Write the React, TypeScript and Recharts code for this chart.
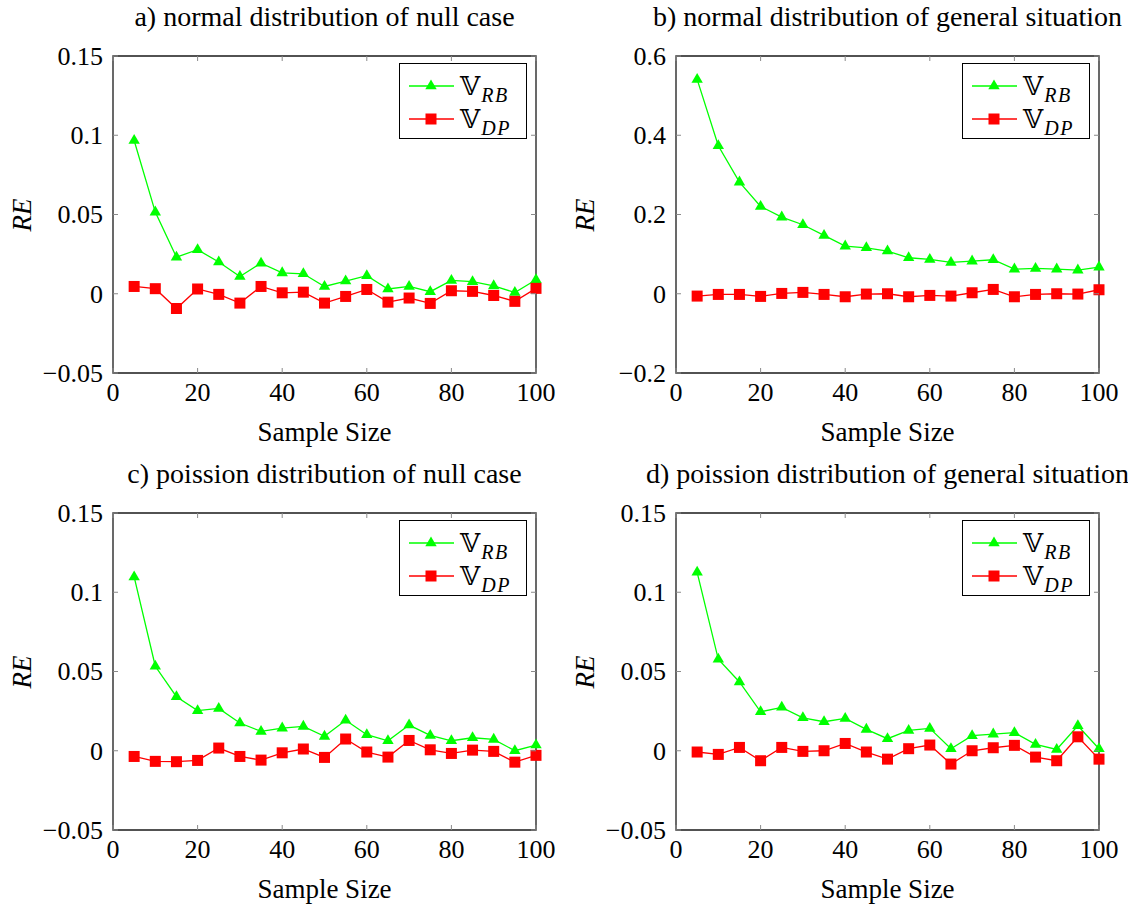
import React from 'react';
import { LineChart, Line, XAxis, YAxis, ReferenceArea } from 'recharts';

const sampleSizes = [5, 10, 15, 20, 25, 30, 35, 40, 45, 50, 55, 60, 65, 70, 75, 80, 85, 90, 95, 100];
const xTicks = [0, 20, 40, 60, 80, 100];

// a) normal, null case
const normalNullRB = [0.0967, 0.0515, 0.0231, 0.0278, 0.02, 0.0109, 0.0193, 0.0132, 0.0126, 0.0046, 0.008, 0.0114, 0.003, 0.0046, 0.0013, 0.0084, 0.0076, 0.005, 0.0008, 0.0088];
const normalNullDP = [0.0046, 0.0032, -0.0093, 0.003, -0.0004, -0.0059, 0.0046, 0.0006, 0.001, -0.0059, -0.0017, 0.0027, -0.0053, -0.0027, -0.0061, 0.0019, 0.0015, -0.0011, -0.0048, 0.0034];

// b) normal, general situation
const normalGenRB = [0.541, 0.3735, 0.2818, 0.2204, 0.1935, 0.1741, 0.1472, 0.1203, 0.116, 0.1077, 0.0908, 0.0866, 0.079, 0.0824, 0.0858, 0.0622, 0.0639, 0.0622, 0.0597, 0.0673];
const normalGenDP = [-0.0059, -0.0017, -0.0017, -0.0067, 0.0008, 0.0034, -0.0017, -0.0076, -0.0008, 0, -0.0076, -0.0042, -0.0059, 0.0025, 0.0109, -0.0076, -0.0017, 0, -0.0008, 0.0101];

// c) poisson, null case
const poissonNullRB = [0.1097, 0.0533, 0.0341, 0.0253, 0.0267, 0.0175, 0.0122, 0.0143, 0.0154, 0.0091, 0.0192, 0.0101, 0.0063, 0.0162, 0.0097, 0.0063, 0.0082, 0.0072, 0, 0.0036];
const poissonNullDP = [-0.0036, -0.0067, -0.0069, -0.0061, 0.0017, -0.0036, -0.0059, -0.0013, 0.0011, -0.0042, 0.0074, -0.0008, -0.004, 0.0065, 0.0006, -0.0017, 0.0004, -0.0004, -0.0072, -0.0029];

// d) poisson, general situation
const poissonGenRB = [0.1126, 0.0577, 0.0434, 0.0246, 0.0274, 0.0208, 0.0183, 0.0204, 0.0135, 0.0076, 0.0128, 0.0141, 0.0013, 0.0095, 0.0105, 0.0114, 0.004, 0.0008, 0.0158, 0.0013];
const poissonGenDP = [-0.0008, -0.0023, 0.0021, -0.0063, 0.0021, -0.0004, 0, 0.0046, -0.0008, -0.0053, 0.0013, 0.0036, -0.0084, 0, 0.0019, 0.0034, -0.004, -0.0063, 0.0088, -0.0053];

const smallTicks = [-0.05, 0, 0.05, 0.1, 0.15];
const bigTicks = [-0.2, 0, 0.2, 0.4, 0.6];

const FONT = "'Liberation Serif', 'DejaVu Serif', serif";
const GREEN = '#00ff00';
const RED = '#ff0000';

const CHART_W = 560;
const CHART_H = 450;
const PLOT_LEFT = 113;
const PLOT_TOP = 56;
const PLOT_W = 423;
const PLOT_H = 317;

const fmt = (v: number) => (v < 0 ? '\u2212' + String(-v) : String(v));

const triPoints = (cx: number, cy: number) =>
  `${cx},${cy - 6.5} ${cx - 5.7},${cy + 3.3} ${cx + 5.7},${cy + 3.3}`;

const TriangleDot = (p: any) => (
  <polygon key={`t-${p.index}`} points={triPoints(p.cx, p.cy)} fill={GREEN} />
);

const SquareDot = (p: any) => (
  <rect key={`s-${p.index}`} x={p.cx - 5.5} y={p.cy - 5.5} width={11} height={11} fill={RED} />
);

const XTick = (p: any) => {
  const { x, y, payload } = p;
  return (
    <g>
      <line x1={x} x2={x} y1={y} y2={y - 5} stroke="#8a8a8a" strokeWidth={1} />
      <line x1={x} x2={x} y1={y - PLOT_H} y2={y - PLOT_H + 5} stroke="#8a8a8a" strokeWidth={1} />
      <text x={x} y={y + 28} textAnchor="middle" style={{ fontFamily: FONT }} fontSize={26} fill="#000">
        {payload.value}
      </text>
    </g>
  );
};

const YTick = (p: any) => {
  const { x, y, payload } = p;
  return (
    <g>
      <line x1={x} x2={x + 5} y1={y} y2={y} stroke="#8a8a8a" strokeWidth={1} />
      <line x1={x + PLOT_W} x2={x + PLOT_W - 5} y1={y} y2={y} stroke="#8a8a8a" strokeWidth={1} />
      <text x={x - 10} y={y} dy="0.34em" textAnchor="end" style={{ fontFamily: FONT }} fontSize={26} fill="#000">
        {fmt(payload.value)}
      </text>
    </g>
  );
};

const LegendRow = ({ top, color, shape, sub }: { top: number; color: string; shape: 'tri' | 'sq'; sub: string }) => (
  <div style={{ position: 'absolute', left: 0, top: top - 16, height: 32, width: 128 }}>
    <svg width={56} height={32} style={{ position: 'absolute', left: 0, top: 0 }}>
      <line x1={9} x2={54} y1={16} y2={16} stroke={color} strokeWidth={1.3} />
      {shape === 'tri' ? (
        <polygon points={triPoints(31, 16)} fill={color} />
      ) : (
        <rect x={25.5} y={10.5} width={11} height={11} fill={color} />
      )}
    </svg>
    <div style={{ position: 'absolute', left: 60, top: 0, height: 32, lineHeight: '32px', whiteSpace: 'nowrap' }}>
      <span style={{ fontFamily: "'DejaVu Serif', 'DejaVu Sans', serif", fontSize: 26 }}>{'\u{1D54D}'}</span>
      <span style={{ fontFamily: FONT, fontStyle: 'italic', fontSize: 20, position: 'relative', top: 7, marginLeft: 1, letterSpacing: 1.5 }}>{sub}</span>
    </div>
  </div>
);

interface PanelProps {
  left: number;
  top: number;
  title: string;
  rb: number[];
  dp: number[];
  yTicks: number[];
}

const Panel = ({ left, top, title, rb, dp, yTicks }: PanelProps) => {
  const data = sampleSizes.map((n, i) => ({ n, rb: rb[i], dp: dp[i] }));
  const lo = yTicks[0];
  const hi = yTicks[yTicks.length - 1];
  const cx = PLOT_LEFT + PLOT_W / 2;
  return (
    <div style={{ position: 'absolute', left, top, width: CHART_W, height: CHART_H }}>
      <div
        style={{
          position: 'absolute', left: cx - 300, width: 600, top: 0, height: 34, lineHeight: '34px',
          textAlign: 'center', fontFamily: FONT, fontSize: 28, whiteSpace: 'nowrap'
        }}
      >
        {title}
      </div>
      <LineChart
        width={CHART_W}
        height={CHART_H}
        data={data}
        margin={{ top: PLOT_TOP, left: PLOT_LEFT - 60, right: CHART_W - PLOT_LEFT - PLOT_W, bottom: CHART_H - PLOT_TOP - PLOT_H - 40 }}
        style={{ position: 'absolute', left: 0, top: 0 }}
      >
        <XAxis
          type="number"
          dataKey="n"
          domain={[0, 100]}
          ticks={xTicks}
          interval={0}
          height={40}
          axisLine={false}
          tickLine={false}
          tickSize={0}
          tickMargin={0}
          tick={<XTick />}
        />
        <YAxis
          type="number"
          domain={[lo, hi]}
          ticks={yTicks}
          interval={0}
          width={60}
          axisLine={false}
          tickLine={false}
          tickSize={0}
          tickMargin={0}
          tick={<YTick />}
        />
        <ReferenceArea x1={0} x2={100} y1={lo} y2={hi} fill="none" fillOpacity={0} stroke="#1a1a1a" strokeWidth={1.3} />
        <Line dataKey="rb" stroke={GREEN} strokeWidth={1.3} dot={TriangleDot} isAnimationActive={false} />
        <Line dataKey="dp" stroke={RED} strokeWidth={1.3} dot={SquareDot} isAnimationActive={false} />
      </LineChart>
      <div
        style={{
          position: 'absolute', left: PLOT_LEFT + PLOT_W - 9 - 128, top: PLOT_TOP + 7, width: 128, height: 76,
          border: '1.3px solid #000', background: '#fff', boxSizing: 'border-box'
        }}
      >
        <LegendRow top={22} color={GREEN} shape="tri" sub="RB" />
        <LegendRow top={55} color={RED} shape="sq" sub="DP" />
      </div>
      <div
        style={{
          position: 'absolute', left: cx - 100, width: 200, top: 432 - 17, height: 34, lineHeight: '34px',
          textAlign: 'center', fontFamily: FONT, fontSize: 27
        }}
      >
        Sample Size
      </div>
      <div
        style={{
          position: 'absolute', left: 22, top: PLOT_TOP + PLOT_H / 2, transform: 'translate(-50%, -50%) rotate(-90deg)',
          fontFamily: FONT, fontStyle: 'italic', fontSize: 27, whiteSpace: 'nowrap'
        }}
      >
        RE
      </div>
    </div>
  );
};

export default function App() {
  return (
    <div style={{ position: 'absolute', left: 0, top: 0, width: 1128, height: 904, background: '#fff', overflow: 'hidden' }}>
      <Panel left={0} top={0} title="a) normal distribution of null case" rb={normalNullRB} dp={normalNullDP} yTicks={smallTicks} />
      <Panel left={563} top={0} title="b) normal distribution of general situation" rb={normalGenRB} dp={normalGenDP} yTicks={bigTicks} />
      <Panel left={0} top={457} title="c) poission distribution of null case" rb={poissonNullRB} dp={poissonNullDP} yTicks={smallTicks} />
      <Panel left={563} top={457} title="d) poission distribution of general situation" rb={poissonGenRB} dp={poissonGenDP} yTicks={smallTicks} />
    </div>
  );
}
